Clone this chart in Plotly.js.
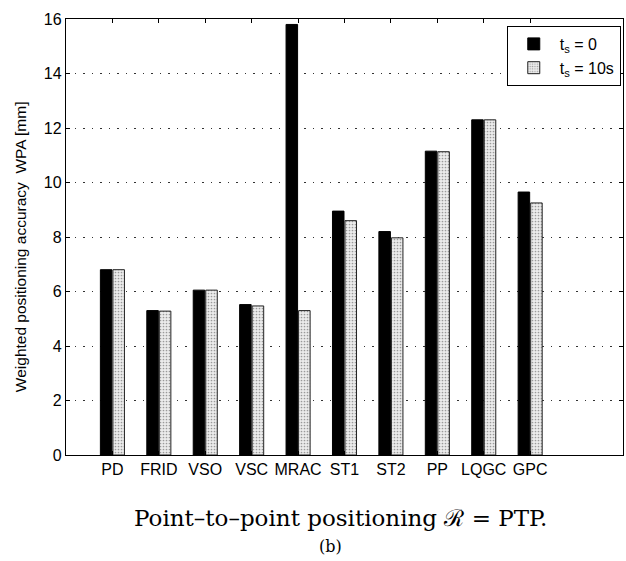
<!DOCTYPE html>
<html>
<head>
<meta charset="utf-8">
<script src="https://cdn.plot.ly/plotly-3.0.1.min.js"></script>
<style>html,body{margin:0;padding:0;background:#fff;}#chart{width:626px;height:561px;}</style>
</head>
<body>
<div id="chart"></div>
<script>
const categories = ["PD", "FRID", "VSO", "VSC", "MRAC", "ST1", "ST2", "PP", "LQGC", "GPC"];
const positions = [1, 2, 3, 4, 5, 6, 7, 8, 9, 10];
const wpaTs0 = [6.8, 5.3, 6.05, 5.52, 15.8, 8.95, 8.2, 11.15, 12.3, 9.65];
const wpaTs10 = [6.8, 5.28, 6.05, 5.47, 5.3, 8.6, 7.97, 11.13, 12.3, 9.25];
const seriesNames = ["t<sub>s</sub> = 0", "t<sub>s</sub> = 10s"];
const yTicks = [0, 2, 4, 6, 8, 10, 12, 14, 16];

const sans = "Liberation Sans, Arial, Helvetica, sans-serif";
const serif = "DejaVu Serif, Liberation Serif, serif";

const traces = [
  {
    type: "bar", x: positions, y: wpaTs0, name: seriesNames[0],
    marker: {color: "#000000", line: {color: "#000000", width: 1}}
  },
  {
    type: "bar", x: positions, y: wpaTs10, name: seriesNames[1],
    marker: {
      color: "#e2e2e2",
      line: {color: "#222222", width: 1},
      pattern: {shape: ".", fgcolor: "#9a9a9a", bgcolor: "#ececec", size: 3, solidity: 0.25}
    }
  }
];

const layout = {
  width: 626, height: 561,
  margin: {l: 66, r: 3, t: 19, b: 106},
  paper_bgcolor: "#ffffff", plot_bgcolor: "#ffffff",
  barmode: "group", bargap: 0.46, bargroupgap: 0.08,
  font: {family: sans, size: 16, color: "#000"},
  showlegend: true,
  legend: {
    x: 0.996, y: 0.984, xanchor: "right", yanchor: "top",
    bgcolor: "#ffffff", bordercolor: "#000000", borderwidth: 1,
    font: {family: sans, size: 16, color: "#000"},
    tracegroupgap: 0, itemwidth: 42
  },
  xaxis: {
    range: [0, 12],
    tickmode: "array", tickvals: positions, ticktext: categories,
    ticks: "inside", ticklen: 4, tickcolor: "#000",
    showline: true, linecolor: "#000", linewidth: 1.2, mirror: "ticks",
    showgrid: false, zeroline: false,
    tickfont: {family: sans, size: 16, color: "#000"}
  },
  yaxis: {
    range: [0, 16],
    tickmode: "array", tickvals: yTicks,
    ticks: "inside", ticklen: 4, tickcolor: "#000",
    showline: true, linecolor: "#000", linewidth: 1.2, mirror: "ticks",
    showgrid: true, gridcolor: "#333", gridwidth: 1, griddash: "1.5px,7px",
    zeroline: false,
    tickfont: {family: sans, size: 16, color: "#000"}
  },
  annotations: [
    {
      text: "Weighted positioning accuracy  WPA [mm]",
      xref: "paper", yref: "paper", x: -0.0826, y: 0.479,
      xanchor: "center", yanchor: "middle", textangle: -90, showarrow: false,
      font: {family: sans, size: 15.5, color: "#000"}
    },
    {
      text: "Point–to–point positioning \u211B = PTP.",
      xref: "paper", yref: "paper", x: 0.492, y: -0.145,
      xanchor: "center", yanchor: "middle", showarrow: false,
      font: {family: serif, size: 23, color: "#000"}
    },
    {
      text: "(b)",
      xref: "paper", yref: "paper", x: 0.474, y: -0.21,
      xanchor: "center", yanchor: "middle", showarrow: false,
      font: {family: serif, size: 16, color: "#000"}
    }
  ]
};

Plotly.newPlot("chart", traces, layout, {displayModeBar: false, staticPlot: true});
</script>
</body>
</html>
